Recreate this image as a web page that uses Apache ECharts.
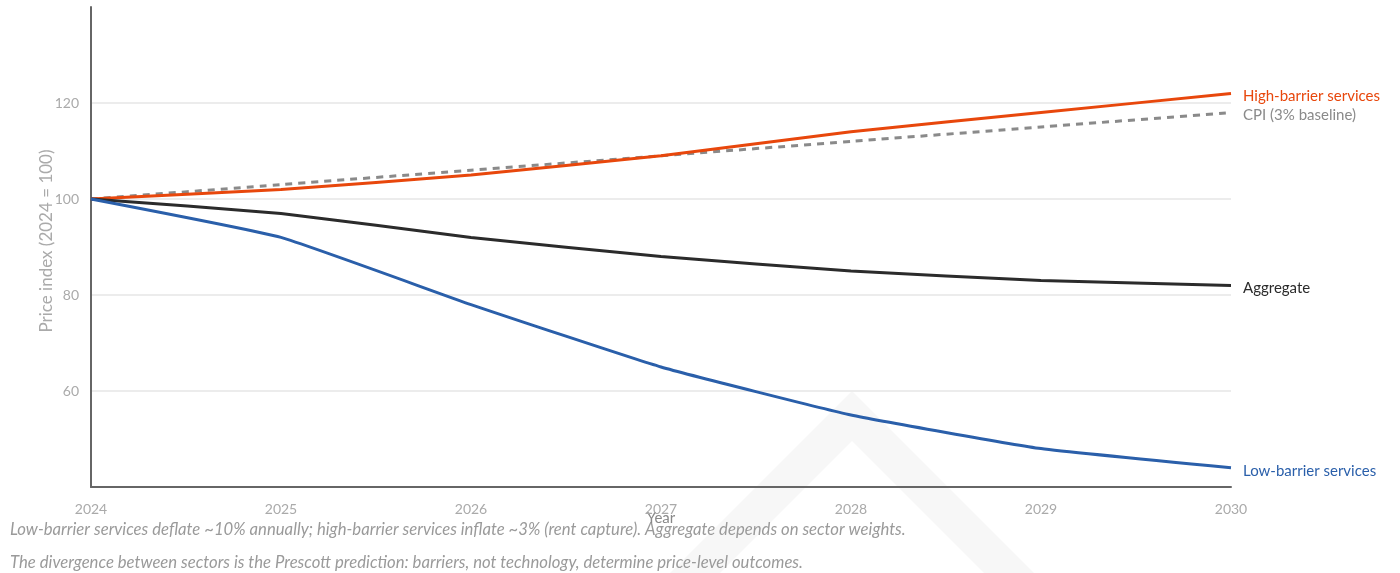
<!DOCTYPE html>
<html>
<head>
<meta charset="utf-8">
<script src="https://cdn.jsdelivr.net/npm/echarts@6/dist/echarts.min.js"></script>
<style>
  html, body { margin: 0; padding: 0; background: #fff; }
  #chart { width: 1400px; height: 573px; }
</style>
</head>
<body>
<div id="chart"></div>
<script>
// Price index by sector, 2024 = 100
const years = ['2024', '2025', '2026', '2027', '2028', '2029', '2030'];
const highBarrier = [100, 102, 105, 109, 114, 118, 122];
const cpiBaseline = [100, 103, 106, 109, 112, 115, 118];
const aggregate = [100, 97, 92, 88, 85, 83, 82];
const lowBarrier = [100, 92, 78, 65, 55, 48, 44];

const noteLines = [
  'Low-barrier services deflate ~10% annually; high-barrier services inflate ~3% (rent capture). Aggregate depends on sector weights.',
  'The divergence between sectors is the Prescott prediction: barriers, not technology, determine price-level outcomes.'
];

const FONT = 'Lato, "Open Sans", sans-serif';

function lineSeries(name, data, color, dashed) {
  return {
    name: name,
    type: 'line',
    data: data,
    symbol: 'none',
    smooth: 0.12,
    lineStyle: { color: color, width: 3, type: dashed ? [7, 6] : 'solid' },
    itemStyle: { color: color },
    endLabel: {
      show: true,
      formatter: '{a}',
      distance: 12,
      color: color,
      fontFamily: FONT,
      fontSize: 15,
      offset: [0, 3]
    },
    z: dashed ? 3 : 4
  };
}

const chart = echarts.init(document.getElementById('chart'), null, { renderer: 'canvas' });
chart.setOption({
  animation: false,
  backgroundColor: '#ffffff',
  grid: { left: 91, right: 169, top: 7, bottom: 86 },
  graphic: [
    {
      type: 'polygon',
      z: -10,
      silent: true,
      shape: { points: [[668, 575], [852, 391], [1036, 575], [986, 575], [852, 441], [718, 575]] },
      style: { fill: '#f7f7f7' }
    },
    {
      type: 'text', left: 10, top: 521,
      style: { text: noteLines[0], fill: '#9a9a9a', font: 'italic 16.7px ' + FONT }
    },
    {
      type: 'text', left: 10, top: 554,
      style: { text: noteLines[1], fill: '#9a9a9a', font: 'italic 16.7px ' + FONT }
    }
  ],
  xAxis: {
    type: 'category',
    data: years,
    boundaryGap: false,
    name: 'Year',
    nameLocation: 'middle',
    nameGap: 24,
    nameMoveOverlap: false,
    nameTextStyle: { color: '#888', fontFamily: FONT, fontSize: 15 },
    axisLine: { lineStyle: { color: '#666', width: 2 } },
    axisTick: { show: false },
    axisLabel: { color: '#aaa', fontFamily: FONT, fontSize: 14, margin: 15 },
    splitLine: { show: false }
  },
  yAxis: {
    type: 'value',
    min: 40,
    max: 140,
    interval: 20,
    name: 'Price index (2024 = 100)',
    nameLocation: 'middle',
    nameGap: 36,
    nameMoveOverlap: false,
    nameTextStyle: { color: '#aaa', fontFamily: FONT, fontSize: 17, padding: [0, 0, 0, 12] },
    axisLine: { show: true, lineStyle: { color: '#666', width: 2 } },
    axisTick: { show: false },
    axisLabel: { color: '#aaa', fontFamily: FONT, fontSize: 14, margin: 12, showMinLabel: false, showMaxLabel: false },
    splitLine: { show: true, showMinLine: false, showMaxLine: false, lineStyle: { color: '#ececec', width: 2 } }
  },
  series: [
    lineSeries('CPI (3% baseline)', cpiBaseline, '#8a8a8a', true),
    lineSeries('High-barrier services', highBarrier, '#e8470c', false),
    lineSeries('Aggregate', aggregate, '#2b2b2b', false),
    lineSeries('Low-barrier services', lowBarrier, '#2a5faa', false)
  ]
});
</script>
</body>
</html>
